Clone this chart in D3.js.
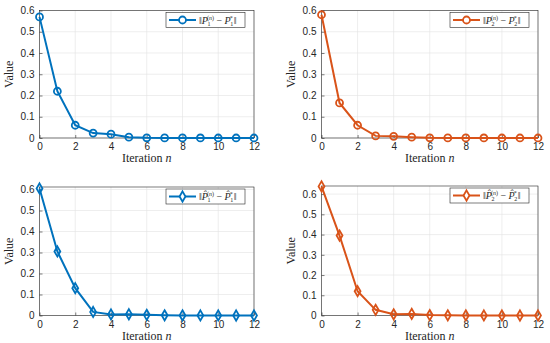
<!DOCTYPE html>
<html>
<head>
<meta charset="utf-8">
<script src="https://cdn.jsdelivr.net/npm/d3@7"></script>
<style>
  body { margin: 0; background: #fff; }
  .tick text { font-family: "Liberation Sans", Arial, sans-serif; font-size: 10px; fill: #262626; }
  .lab { font-family: "Liberation Serif", "DejaVu Serif", serif; font-size: 12px; fill: #262626; }
  .leg { font-family: "Liberation Serif", serif; font-size: 10px; fill: #262626; }
</style>
</head>
<body>
<svg id="chart" width="550" height="343"></svg>
<script>
const iterations = d3.range(0, 13);
const xTicks = [0, 2, 4, 6, 8, 10, 12];
const yTicks = [0, 0.1, 0.2, 0.3, 0.4, 0.5, 0.6];

const p1 = [0.57, 0.22, 0.06, 0.023, 0.018, 0.004, 0.001, 0.0005, 0.0003, 0.0002, 0.0001, 0.0001, 0.0001];
const p2 = [0.58, 0.165, 0.06, 0.01, 0.008, 0.004, 0.001, 0.0005, 0.0003, 0.0002, 0.0001, 0.0001, 0.0001];
const p1hat = [0.605, 0.305, 0.13, 0.017, 0.005, 0.006, 0.003, 0.001, 0.0005, 0.0003, 0.0002, 0.0001, 0.0001];
const p2hat = [0.638, 0.395, 0.12, 0.028, 0.006, 0.008, 0.002, 0.001, 0.0005, 0.0003, 0.0002, 0.0001, 0.0001];

const blue = "#0072BD";
const orange = "#D95319";

const panels = [
  { values: p1, color: blue, marker: "circle", yMax: 0.6, x0: 39.5, x1: 254, y0: 10.5, y1: 138, idx: "1", hat: false },
  { values: p2, color: orange, marker: "circle", yMax: 0.6, x0: 321.5, x1: 538, y0: 10.5, y1: 138, idx: "2", hat: false },
  { values: p1hat, color: blue, marker: "diamond", yMax: 0.612, x0: 39.5, x1: 254, y0: 187, y1: 315.5, idx: "1", hat: true },
  { values: p2hat, color: orange, marker: "diamond", yMax: 0.64, x0: 321.5, x1: 538, y0: 186, y1: 315.5, idx: "2", hat: true }
];

const svg = d3.select("#chart");

const drawPanel = p => {
  const x = d3.scaleLinear().domain([0, 12]).range([p.x0, p.x1]);
  const y = d3.scaleLinear().domain([0, p.yMax]).range([p.y1, p.y0]);
  const g = svg.append("g");

  // grid
  g.selectAll(".gx").data(xTicks).enter().append("line")
    .attr("x1", d => x(d)).attr("x2", d => x(d))
    .attr("y1", p.y0).attr("y2", p.y1)
    .attr("stroke", "#e3e3e3").attr("stroke-width", 0.6);
  g.selectAll(".gy").data(yTicks).enter().append("line")
    .attr("x1", p.x0).attr("x2", p.x1)
    .attr("y1", d => y(d)).attr("y2", d => y(d))
    .attr("stroke", "#e3e3e3").attr("stroke-width", 0.6);

  // axes
  const xa = g.append("g").attr("transform", `translate(0,${p.y1})`)
    .call(d3.axisBottom(x).tickValues(xTicks).tickSize(-3).tickPadding(5).tickFormat(d3.format("d")));
  const ya = g.append("g").attr("transform", `translate(${p.x0},0)`)
    .call(d3.axisLeft(y).tickValues(yTicks).tickSize(-3).tickPadding(5).tickFormat(d => d === 0 ? "0" : d3.format(".1f")(d)));
  [xa, ya].forEach(a => {
    a.select(".domain").remove();
    a.selectAll(".tick line").attr("stroke", "#262626").attr("stroke-width", 0.6);
  });

  // box
  g.append("rect")
    .attr("x", p.x0).attr("y", p.y0)
    .attr("width", p.x1 - p.x0).attr("height", p.y1 - p.y0)
    .attr("fill", "none").attr("stroke", "#262626").attr("stroke-width", 0.6);

  // labels
  g.append("text").attr("class", "lab")
    .attr("transform", `translate(${p.x0 - 27},${(p.y0 + p.y1) / 2}) rotate(-90)`)
    .attr("text-anchor", "middle").text("Value");
  const xl = g.append("text").attr("class", "lab")
    .attr("x", (p.x0 + p.x1) / 2).attr("y", p.y1 + 24)
    .attr("text-anchor", "middle");
  xl.append("tspan").text("Iteration ");
  xl.append("tspan").attr("font-style", "italic").text("n");

  // line
  const line = d3.line().x((d, i) => x(iterations[i])).y(d => y(d));
  g.append("path").datum(p.values)
    .attr("d", line).attr("fill", "none")
    .attr("stroke", p.color).attr("stroke-width", 2);

  const sym = p.marker === "circle"
    ? d3.symbol().type(d3.symbolCircle).size(38)
    : d3.symbol().type(d3.symbolDiamond).size(30);
  g.selectAll(".m").data(p.values).enter().append("path")
    .attr("d", sym)
    .attr("transform", (d, i) => `translate(${x(iterations[i])},${y(d)})`)
    .attr("fill", "none").attr("stroke", p.color).attr("stroke-width", 1.8);

  // legend
  const lx1 = p.x1 - 9, lx0 = lx1 - 79, ly0 = p.y0 + 2, ly1 = ly0 + 15;
  g.append("rect").attr("x", lx0).attr("y", ly0)
    .attr("width", lx1 - lx0).attr("height", ly1 - ly0)
    .attr("fill", "#fff").attr("stroke", "#262626").attr("stroke-width", 0.6);
  const ly = (ly0 + ly1) / 2;
  g.append("line").attr("x1", lx0 + 3).attr("x2", lx0 + 30)
    .attr("y1", ly).attr("y2", ly)
    .attr("stroke", p.color).attr("stroke-width", 2);
  g.append("path").attr("d", sym)
    .attr("transform", `translate(${lx0 + 16.5},${ly})`)
    .attr("fill", "#fff").attr("stroke", p.color).attr("stroke-width", 1.8);

  const t = g.append("text").attr("class", "leg").attr("x", lx0 + 33).attr("y", ly + 3.5);
  const P = p.hat ? "P\u0302" : "P";
  t.append("tspan").text("\u2016");
  t.append("tspan").attr("font-style", "italic").text(P);
  t.append("tspan").attr("font-size", "6px").attr("dy", 2).attr("dx", -0.5).text(p.idx);
  t.append("tspan").attr("font-size", "6px").attr("dy", -6).attr("dx", -3.5).text("(");
  t.append("tspan").attr("font-size", "6px").attr("font-style", "italic").text("n");
  t.append("tspan").attr("font-size", "6px").text(")");
  t.append("tspan").attr("dy", 4).text(" \u2212 ");
  t.append("tspan").attr("font-style", "italic").text(P);
  t.append("tspan").attr("font-size", "6px").attr("dy", 2).attr("dx", -0.5).text(p.idx);
  t.append("tspan").attr("font-size", "6px").attr("dy", -6).attr("dx", -3.5).text("*");
  t.append("tspan").attr("dy", 4).attr("dx", 1).text("\u2016");
};

panels.forEach(drawPanel);
</script>
</body>
</html>
